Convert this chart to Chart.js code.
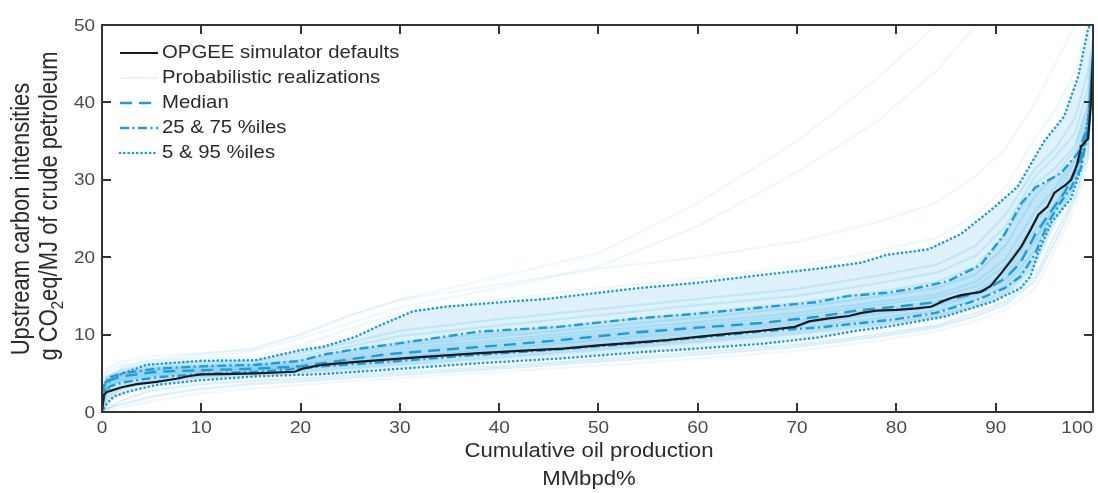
<!DOCTYPE html>
<html><head><meta charset="utf-8">
<script src="https://cdn.jsdelivr.net/npm/chart.js@4/dist/chart.umd.min.js"></script>
<style>html,body{margin:0;padding:0;background:#fff}#wrap{width:1098px;height:493px;position:relative}</style>
</head><body><div id="wrap"><canvas id="c" width="1098" height="493"></canvas></div>
<script>
// ---------- data ----------
const xTicks = [0,10,20,30,40,50,60,70,80,90,100];
const yTicks = [0,10,20,30,40,50];

const defX = [0,0.2,0.5,1,2,3.5,5.5,7.5,8.8,10,12,15.5,19.4,20.2,22.2,25,28,32,38,42,46.4,50,54,57,60,63,66.4,69.8,71.2,73.2,75.2,76.5,78,80,82,83.5,85.2,86.5,88.5,89.5,90.6,91.5,92.6,93.5,94.3,95.2,95.9,97,97.6,98.2,98.6,99.3,99.6,99.8,100];
const defY = [0,2.2,2.6,2.8,3.2,3.6,3.9,4.3,4.65,4.85,4.9,5.0,5.2,5.6,6.1,6.4,6.7,7.1,7.6,7.9,8.2,8.6,9.0,9.3,9.7,10.1,10.5,11.0,11.7,12.1,12.4,12.8,13.1,13.2,13.4,13.6,14.6,15.1,15.5,16.3,18.0,19.5,21.4,23.5,25.5,26.5,28.3,29.3,30.0,32.0,34.3,35.3,40,46,50];

const medX = [0,0.5,0.8,2,5.5,10,15.5,20,22.2,26,29,35,41,47,54,60,66.4,72,76.5,80,84,87,89,91,92.5,94,95.5,97,98.5,99.3,99.7,100];
const medY = [1.5,3.5,4.1,4.6,5.2,5.4,5.6,5.9,6.3,7.0,7.5,8.1,8.7,9.4,10.3,10.9,11.5,12.3,13.2,13.6,14.2,15.0,15.8,17.3,19.3,23.0,25.8,28.5,32.5,37,43,50];

const p75X = [0,0.3,0.8,2,5.5,10,15.5,20,22.2,26,29,38,46,54,60,66.4,72,75.2,79,82,85.2,88.5,90.9,92.6,94,96.6,98.3,99.3,99.7,100];
const p75Y = [2.5,3.8,4.5,5.0,5.6,5.9,6.1,6.6,7.4,8.2,8.7,10.4,11.0,12.1,12.7,13.5,14.2,15.0,15.4,16.0,16.9,19.0,23.0,27.0,29.0,30.9,33.5,37,43,50];

const p25X = [0,0.3,0.8,2,5.5,10,15.5,20,22.2,29,38,46,54,60,66.4,72,76.5,80,84,88,90.9,92.5,94,95.3,96.5,97.6,98.6,99.4,99.8,100];
const p25Y = [0.8,2.5,3.3,3.8,4.5,4.9,5.2,5.6,5.9,6.5,7.4,8.1,8.9,9.6,10.4,10.9,11.5,12.0,12.8,14.4,16.0,17.5,20.5,24.5,27.0,29.0,31.5,37,44,50];

const p5X = [0,0.5,1.2,2.5,5.5,9.9,15.5,22.2,28,38,46,54,60,66.4,72,76,79,84.8,89.8,92.5,93.5,94.2,95.6,97.6,98.6,99.5,100];
const p5Y = [0,1.1,2.0,2.6,3.5,4.1,4.6,4.9,5.4,6.3,6.9,7.7,8.2,8.8,9.6,10.5,11.0,12.3,14.3,16.0,17.5,20.3,24.5,27.6,31.5,40,50];

const p95X = [0,1,2.1,4.5,9.9,15.5,20,22.2,25.5,28,31.3,34.6,41.3,44.7,50,54,60,66.4,72,76.5,79,83.2,86.5,89.8,92.2,94.9,96.9,98.3,99.3,99.5];
const p95Y = [3.5,4.4,5.0,6.1,6.6,6.7,8.0,8.4,9.7,11.2,13.0,13.6,14.3,14.6,15.4,16.0,16.7,17.7,18.5,19.3,20.3,21.0,23.0,26.4,29.1,35.0,38.2,43.3,49.4,50];

// probabilistic realizations, sampled at these production shares
const realX = [0,0.5,2,5,10,15,20,25,30,40,50,60,70,78,84,88,91,94,96,98,99.3,100];
const realizations = [
  [0,0.3,1.5,2.8,3.6,4.0,4.3,4.7,5.1,5.9,6.8,7.7,8.7,10.0,11.2,12.8,14.3,17.5,23,28,34,50],
  [0,1.8,3.0,3.9,4.5,4.8,5.1,5.6,6.1,7.0,8.0,9.0,10.1,11.2,12.3,13.6,15.2,19,24.5,29.5,35,50],
  [0.5,2.6,3.6,4.3,4.8,5.1,5.5,6.0,6.5,7.5,8.4,9.4,10.5,11.6,12.6,14.0,15.8,20,25.5,30,36,50],
  [1.0,3.2,4.2,4.8,5.2,5.4,5.8,6.4,7.0,8.1,9.2,10.2,11.3,12.6,13.6,15.0,17.0,22,26.5,31,37,50],
  [1.5,3.5,4.5,5.1,5.4,5.6,6.0,6.8,7.5,8.6,9.7,10.8,11.9,13.3,14.2,15.6,18.0,23.5,27,31.5,38,50],
  [2.0,3.9,4.8,5.4,5.7,5.9,6.3,7.3,8.2,9.3,10.5,11.6,12.8,14.2,15.2,16.8,19.8,26,29,33,39,50],
  [2.5,4.3,5.1,5.7,6.0,6.2,6.8,8.0,9.0,10.2,11.6,12.8,14.1,15.5,16.8,18.8,23,29.5,31.5,34.5,40,50],
  [3.0,4.6,5.5,6.2,6.5,6.6,7.6,9.0,10.5,12.0,13.3,14.6,15.9,17.6,19.0,21.5,25.5,31.5,34,38,44,50],
  [3.6,5.2,6.0,6.6,6.9,7.1,8.6,10.8,12.8,14.6,16.0,17.3,18.8,20.8,22.5,25.5,29,35.5,39,44,50,50],
  [4.0,5.6,6.5,7.2,7.6,8.0,10,12.5,14.5,16.5,18.5,20.0,22.0,24.5,27,30.5,34,40,45,50,50,50],
  [2.0,4.5,5.8,6.8,7.5,8.2,10,12.5,14.5,17.5,20.5,27,35,43,50,50,50,50,50,50,50,50],
  [1.0,4.0,5.5,6.5,7.2,7.8,9.5,11.5,13.5,16,18.8,24,31,37.5,44,50,50,50,50,50,50,50],
  [0,0.2,0.6,1.4,2.4,3.0,3.5,4.0,4.4,5.2,6.0,6.9,7.9,9.2,10.4,11.8,13.2,16.0,21,26.5,32,50],
  [0,0.5,1.0,2.0,3.0,3.6,4.0,4.4,4.8,5.6,6.5,7.4,8.4,9.7,10.9,12.4,13.9,17,22,27.5,33,50],
  [1.2,3.3,4.3,4.9,5.3,5.5,5.9,6.6,7.2,8.3,9.4,10.5,11.6,12.9,13.9,15.3,17.4,22.5,26.5,31,37,50],
  [1.8,3.7,4.7,5.3,5.6,5.8,6.2,7.0,7.8,9.0,10.1,11.2,12.4,13.8,14.8,16.2,18.9,24.5,28,32.5,38,50],
  [0.8,3.0,4.0,4.6,5.0,5.3,5.7,6.2,6.8,7.8,8.8,9.8,10.9,12.1,13.1,14.5,16.4,21,26,30.5,36.5,50],
  [2.2,4.1,5.0,5.6,5.9,6.1,6.6,7.6,8.6,9.8,11.0,12.2,13.5,14.9,16.0,17.8,21.5,28,30.5,34,39.5,50],
  [2.8,4.5,5.3,5.9,6.2,6.4,7.2,8.5,9.8,11.2,12.5,13.8,15.0,16.6,18.0,20.2,24,30.5,33,36,42,50],
  [0.2,2.2,3.3,4.1,4.6,5.0,5.3,5.8,6.3,7.2,8.2,9.2,10.3,11.4,12.4,13.8,15.5,19.5,25,29.5,35.5,50]
];

const legendLabels = ['OPGEE simulator defaults','Probabilistic realizations','Median','25 & 75 %iles','5 & 95 %iles'];
const xTitle = ['Cumulative oil production','MMbpd%'];
const yTitle1 = 'Upstream carbon intensities';

// ---------- styling ----------
const BLUE = 'rgb(28,156,219)';
const SX = 1.15; // horizontal stretch of the reference's lettering
const pts = (xs, ys) => xs.map((x, i) => ({x, y: ys[i]}));

const datasets = [];
realizations.forEach((r, i) => {
  const outlier = (i >= 8 && i <= 12);
  datasets.push({data: pts(realX, r), borderColor: outlier ? 'rgba(30,160,222,0.07)' : 'rgba(30,160,222,0.16)',
    borderWidth: 2.2, order: 20});
});
const iP5 = datasets.length;
datasets.push({label:'p5', data: pts(p5X, p5Y), borderColor: BLUE, borderWidth: 2.6, borderDash: [0.1, 4.2], borderCapStyle: 'round', order: 5});
datasets.push({label:'p95', data: pts(p95X, p95Y), borderColor: BLUE, borderWidth: 2.6, borderDash: [0.1, 4.2], borderCapStyle: 'round', order: 5,
  fill: {target: iP5}, backgroundColor: 'rgba(40,165,225,0.15)'});
const iP25 = datasets.length;
datasets.push({label:'p25', data: pts(p25X, p25Y), borderColor: BLUE, borderWidth: 2.4, borderDash: [9, 3.5, 2, 3.5], order: 4});
datasets.push({label:'p75', data: pts(p75X, p75Y), borderColor: BLUE, borderWidth: 2.4, borderDash: [9, 3.5, 2, 3.5], order: 4,
  fill: {target: iP25}, backgroundColor: 'rgba(40,165,225,0.17)'});
datasets.push({label:'median', data: pts(medX, medY), borderColor: BLUE, borderWidth: 2.4, borderDash: [12, 7], order: 3});
datasets.push({label:'default', data: pts(defX, defY), borderColor: '#1a1a1a', borderWidth: 2.2, order: 0});

function sText(ctx, txt, x, y, align, font, color) {
  ctx.save();
  ctx.translate(x, y); ctx.scale(SX, 1);
  ctx.font = font; ctx.fillStyle = color; ctx.textAlign = align; ctx.textBaseline = 'middle';
  ctx.fillText(txt, 0, 0);
  ctx.restore();
}

const decor = {
  id: 'decor',
  afterDraw(chart) {
    const ctx = chart.ctx, a = chart.chartArea;
    const xs = chart.scales.x, ys = chart.scales.y;
    ctx.save();
    // frame
    ctx.strokeStyle = '#333'; ctx.lineWidth = 2;
    ctx.strokeRect(a.left, a.top, a.right - a.left, a.bottom - a.top);
    // inward ticks
    ctx.lineWidth = 2; ctx.beginPath();
    xTicks.forEach(v => {
      const px = Math.round(xs.getPixelForValue(v));
      if (px > a.left + 2 && px < a.right - 2) {
        ctx.moveTo(px, a.bottom); ctx.lineTo(px, a.bottom - 9);
        ctx.moveTo(px, a.top); ctx.lineTo(px, a.top + 9);
      }
    });
    yTicks.forEach(v => {
      const py = Math.round(ys.getPixelForValue(v));
      if (py > a.top + 2 && py < a.bottom - 2) {
        ctx.moveTo(a.left, py); ctx.lineTo(a.left + 9, py);
        ctx.moveTo(a.right, py); ctx.lineTo(a.right - 9, py);
      }
    });
    ctx.stroke();
    // tick labels
    const tf = '16.5px "Liberation Sans", Arial, sans-serif';
    ctx.font = tf;
    xTicks.forEach(v => {
      let px = xs.getPixelForValue(v), al = 'center';
      const w = ctx.measureText(String(v)).width * SX;
      if (px + w / 2 > a.right) { px = a.right; al = 'right'; }
      sText(ctx, String(v), px, a.bottom + 16, al, tf, '#4a4a4a');
    });
    yTicks.forEach(v => {
      sText(ctx, String(v), a.left - 7, ys.getPixelForValue(v) + 1, 'right', tf, '#4a4a4a');
    });
    // x title
    const xf = '19.3px "Liberation Sans", Arial, sans-serif';
    sText(ctx, xTitle[0], 589, 452, 'center', xf, '#2a2a2a');
    sText(ctx, xTitle[1], 589, 480, 'center', xf, '#2a2a2a');
    // y title (rotated)
    const yf = '22px "Liberation Sans", Arial, sans-serif';
    const yfs = '15px "Liberation Sans", Arial, sans-serif';
    ctx.save();
    ctx.translate(22, 219); ctx.scale(SX, 1); ctx.rotate(-Math.PI / 2);
    ctx.font = yf; ctx.fillStyle = '#2a2a2a'; ctx.textAlign = 'center'; ctx.textBaseline = 'middle';
    ctx.fillText(yTitle1, 0, 0);
    ctx.restore();
    ctx.save();
    ctx.translate(50, 206); ctx.scale(SX, 1); ctx.rotate(-Math.PI / 2);
    ctx.fillStyle = '#2a2a2a'; ctx.textBaseline = 'middle'; ctx.textAlign = 'left';
    const partA = 'g CO', partB = '2', partC = 'eq/MJ of crude petroleum';
    ctx.font = yf; const wA = ctx.measureText(partA).width, wC = ctx.measureText(partC).width;
    ctx.font = yfs; const wB = ctx.measureText(partB).width;
    let u = -(wA + wB + wC) / 2;
    ctx.font = yf; ctx.fillText(partA, u, 0); u += wA;
    ctx.font = yfs; ctx.fillText(partB, u, 7); u += wB;
    ctx.font = yf; ctx.fillText(partC, u, 0);
    ctx.restore();
    // legend
    const lf = '17.7px "Liberation Sans", Arial, sans-serif';
    const rows = [
      {c: '#1a1a1a', w: 2.2, d: []},
      {c: 'rgba(30,160,222,0.10)', w: 2, d: []},
      {c: BLUE, w: 2.4, d: [12, 7]},
      {c: BLUE, w: 2.4, d: [9, 3.5, 2, 3.5]},
      {c: BLUE, w: 2.6, d: [0.1, 4.2], cap: 'round'}
    ];
    rows.forEach((r, i) => {
      const y = 53 + i * 25;
      ctx.save();
      ctx.strokeStyle = r.c; ctx.lineWidth = r.w; ctx.setLineDash(r.d); ctx.lineCap = r.cap || 'butt';
      ctx.beginPath(); ctx.moveTo(120, y); ctx.lineTo(158, y); ctx.stroke();
      ctx.restore();
      sText(ctx, legendLabels[i], 162, y, 'left', lf, '#2a2a2a');
    });
    ctx.restore();
  }
};

new Chart(document.getElementById('c'), {
  type: 'line',
  data: {datasets},
  options: {
    responsive: false, animation: false,
    layout: {padding: {left: 0, right: 5, top: 25, bottom: 0}},
    elements: {point: {radius: 0}, line: {tension: 0}},
    plugins: {legend: {display: false}, tooltip: {enabled: false}},
    scales: {
      x: {type: 'linear', min: 0, max: 99.8, grid: {display: false}, border: {display: false},
          ticks: {display: false}, afterFit: s => { s.height = 81; }},
      y: {type: 'linear', min: 0, max: 50, grid: {display: false}, border: {display: false},
          ticks: {display: false}, afterFit: s => { s.width = 102; }}
    }
  },
  plugins: [decor]
});
</script></body></html>
